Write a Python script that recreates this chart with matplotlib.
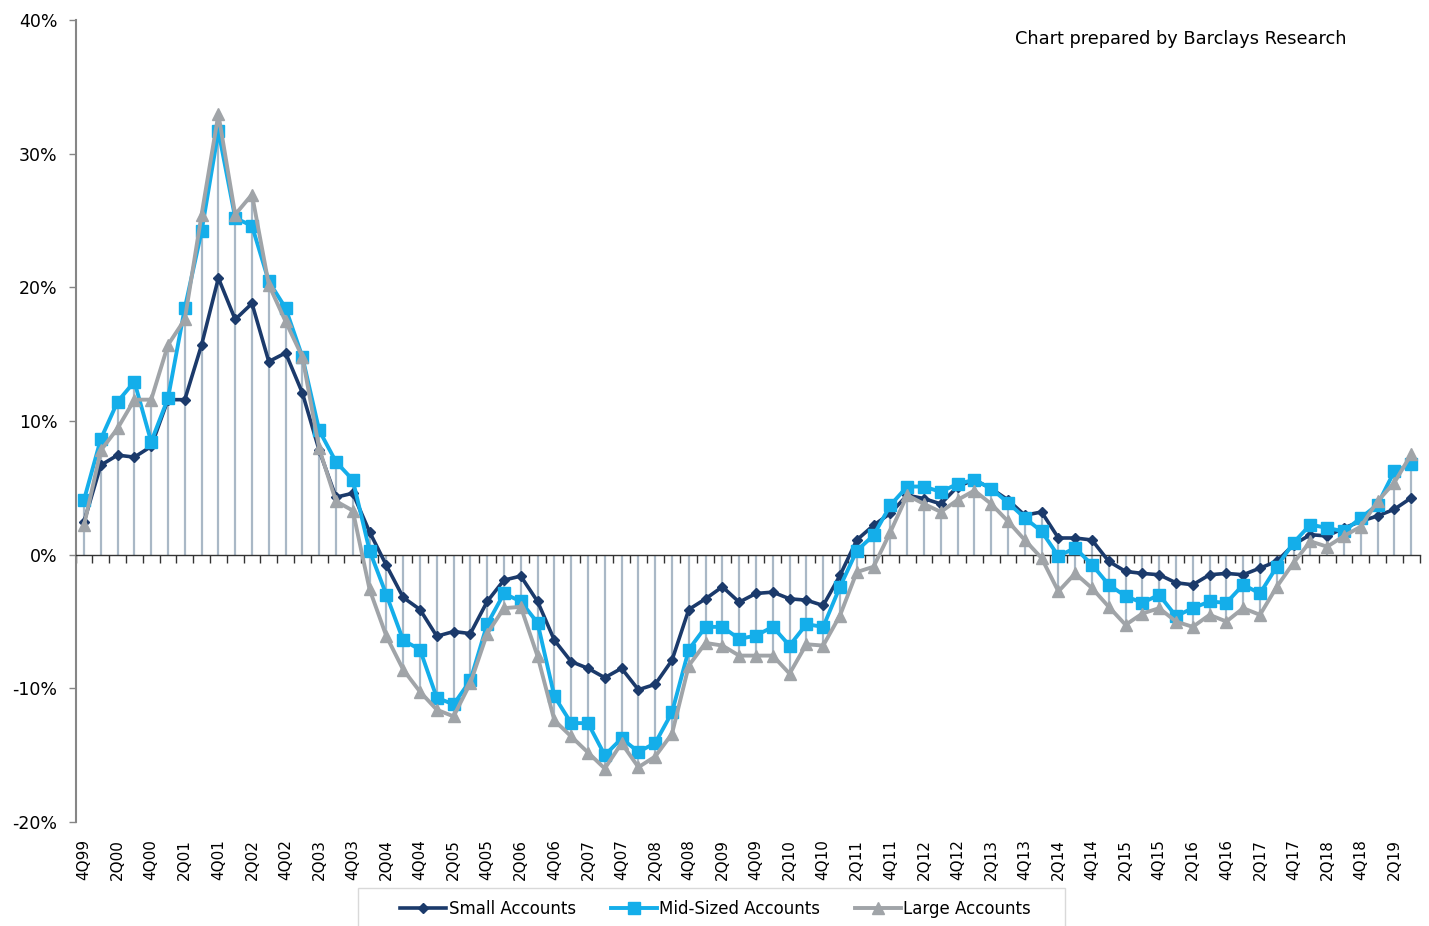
import numpy as np
import matplotlib.pyplot as plt
from matplotlib.patches import Rectangle

# quarterly % change, 4Q99 .. 3Q19
small = [2.45, 6.7, 7.45, 7.3, 8.1, 11.6, 11.6, 15.7, 20.7, 17.6,
         18.8, 14.45, 15.1, 12.1, 7.8, 4.3, 4.6, 1.7, -0.8, -3.2,
         -4.1, -6.1, -5.75, -5.9, -3.5, -1.9, -1.6, -3.5, -6.4, -8.0,
         -8.5, -9.2, -8.5, -10.1, -9.7, -7.9, -4.1, -3.3, -2.4, -3.55,
         -2.9, -2.8, -3.3, -3.4, -3.8, -1.55, 1.1, 2.2, 3.1, 4.45,
         4.2, 3.8, 5.1, 5.6, 4.95, 4.1, 2.95, 3.2, 1.25, 1.25,
         1.1, -0.5, -1.25, -1.4, -1.5, -2.1, -2.25, -1.5, -1.4, -1.5,
         -1.0, -0.5, 0.75, 1.5, 1.4, 2.0, 2.5, 2.9, 3.4, 4.25]
mid = [4.1, 8.65, 11.45, 12.95, 8.45, 11.7, 18.45, 24.2, 31.7, 25.2,
       24.6, 20.45, 18.45, 14.8, 9.3, 6.95, 5.6, 0.3, -3.0, -6.4,
       -7.1, -10.7, -11.2, -9.4, -5.2, -2.9, -3.5, -5.1, -10.6, -12.6,
       -12.6, -15.0, -13.75, -14.75, -14.1, -11.8, -7.1, -5.4, -5.4, -6.3,
       -6.05, -5.4, -6.8, -5.2, -5.4, -2.4, 0.3, 1.45, 3.7, 5.1,
       5.1, 4.7, 5.3, 5.6, 4.95, 3.9, 2.75, 1.75, -0.1, 0.5,
       -0.75, -2.25, -3.1, -3.6, -3.0, -4.6, -4.0, -3.5, -3.6, -2.25,
       -2.9, -0.9, 0.9, 2.25, 2.0, 1.75, 2.75, 3.75, 6.25, 6.75]
large = [2.2, 7.8, 9.45, 11.6, 11.6, 15.7, 17.6, 25.45, 32.95, 25.45,
         26.95, 20.2, 17.45, 14.8, 7.95, 4.0, 3.3, -2.6, -6.1, -8.6,
         -10.25, -11.6, -12.1, -9.6, -5.9, -4.0, -3.9, -7.6, -12.4, -13.6,
         -14.8, -16.0, -14.1, -15.9, -15.1, -13.4, -8.3, -6.6, -6.8, -7.55,
         -7.55, -7.55, -8.9, -6.7, -6.8, -4.55, -1.3, -0.9, 1.7, 4.45,
         3.8, 3.2, 4.1, 4.8, 3.8, 2.5, 1.1, -0.25, -2.75, -1.4,
         -2.5, -3.9, -5.25, -4.4, -4.0, -5.0, -5.4, -4.5, -5.0, -4.0,
         -4.5, -2.4, -0.6, 1.0, 0.6, 1.4, 2.1, 4.0, 5.4, 7.5]

tick_labels = ['4Q99', '2Q00', '4Q00', '2Q01', '4Q01', '2Q02', '4Q02', '2Q03',
               '4Q03', '2Q04', '4Q04', '2Q05', '4Q05', '2Q06', '4Q06', '2Q07',
               '4Q07', '2Q08', '4Q08', '2Q09', '4Q09', '2Q10', '4Q10', '2Q11',
               '4Q11', '2Q12', '4Q12', '2Q13', '4Q13', '2Q14', '4Q14', '2Q15',
               '4Q15', '2Q16', '4Q16', '2Q17', '4Q17', '2Q18', '4Q18', '2Q19']

navy = '#1B3A6B'
blue = '#14AEEA'
gray = '#A0A4A8'

fig = plt.figure(figsize=(14.29, 9.26), dpi=100)
ax = fig.add_axes([0.0529, 0.1123, 0.9405, 0.866])

x = np.arange(len(small))
allv = np.array([small, mid, large])
top = np.maximum(0, allv.max(axis=0))
bot = np.minimum(0, allv.min(axis=0))

# drop lines
ax.vlines(x, bot, top, color='#A9B8C6', lw=1.6, zorder=1)

ax.plot(x, small, color=navy, lw=2.6, marker='D', ms=5, label='Small Accounts', zorder=3)
ax.plot(x, mid, color=blue, lw=2.8, marker='s', ms=8, label='Mid-Sized Accounts', zorder=4)
ax.plot(x, large, color=gray, lw=2.8, marker='^', ms=9, label='Large Accounts', zorder=5)

ax.set_xlim(-0.5, len(x) - 0.5)
ax.set_ylim(-20, 40)
ax.set_yticks(np.arange(-20, 41, 10))
ax.set_yticklabels(['%d%%' % v for v in np.arange(-20, 41, 10)])
ax.tick_params(axis='y', direction='out', length=5, width=1, color='#868686',
               pad=8, labelsize=12.5)

for s in ['top', 'right']:
    ax.spines[s].set_visible(False)
ax.spines['left'].set_color('#868686')
ax.spines['left'].set_linewidth(1.5)
ax.spines['bottom'].set_position(('data', 0))
ax.spines['bottom'].set_color('#333333')
ax.spines['bottom'].set_linewidth(1.0)

# tick marks between categories on the zero line
ax.set_xticks(np.arange(-0.5, len(x), 1))
ax.set_xticklabels([])
ax.tick_params(axis='x', direction='out', length=6, width=1, color='#333333')

# category labels at the bottom of the plot
sec = ax.secondary_xaxis('bottom')
sec.set_xticks(x[::2])
sec.set_xticklabels(tick_labels, rotation=90)
sec.spines['bottom'].set_visible(False)
sec.tick_params(length=0, pad=12, labelsize=11)

fig.text(0.7105, 0.958, 'Chart prepared by Barclays Research', fontsize=12.8,
         ha='left', va='center')

# legend box, cut off by the bottom edge like the original
fig.patches.append(Rectangle((358 / 1429, -0.02), 707 / 1429, 0.061,
                             transform=fig.transFigure, facecolor='none',
                             edgecolor='#D9D9D9', lw=1.0))
leg = ax.legend(loc='center left', bbox_to_anchor=(392 / 1429, 1 - 909 / 926),
                bbox_transform=fig.transFigure, ncol=3, frameon=False,
                fontsize=12, handlelength=2.75, columnspacing=2.1,
                handletextpad=0.15, borderpad=0)

fig.savefig('out.png', dpi=100)
